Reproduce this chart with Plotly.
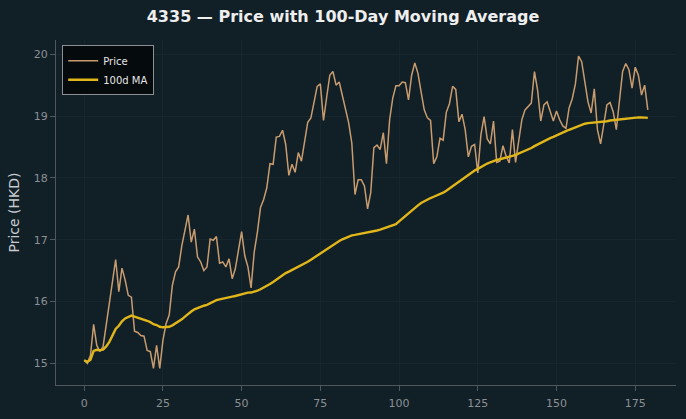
import plotly.graph_objects as go
import pandas as pd

days = list(range(180))
price = [
    15.05, 15.00, 15.13, 15.63, 15.29, 15.19, 15.27, 15.63, 15.94, 16.32,
    16.68, 16.16, 16.54, 16.35, 16.10, 16.07, 15.52, 15.50, 15.45, 15.44,
    15.21, 15.19, 14.92, 15.29, 14.92, 15.37, 15.64, 15.78, 16.26, 16.48,
    16.56, 16.90, 17.17, 17.40, 16.96, 17.17, 16.72, 16.64, 16.50, 16.56,
    17.01, 16.99, 17.05, 16.62, 16.64, 16.56, 16.69, 16.37, 16.53, 16.85,
    17.13, 16.74, 16.56, 16.22, 16.80, 17.12, 17.52, 17.65, 17.84, 18.23,
    18.22, 18.66, 18.67, 18.77, 18.54, 18.04, 18.22, 18.09, 18.41, 18.27,
    18.56, 18.90, 18.97, 19.22, 19.48, 19.52, 18.93, 19.30, 19.66, 19.72,
    19.50, 19.55, 19.34, 19.13, 18.89, 18.56, 17.73, 17.97, 17.97, 17.87,
    17.50, 17.76, 18.49, 18.53, 18.46, 18.73, 18.23, 18.94, 19.29, 19.49,
    19.49, 19.55, 19.54, 19.26, 19.66, 19.86, 19.69, 19.39, 19.10, 18.97,
    18.93, 18.23, 18.34, 18.64, 18.61, 19.06, 19.20, 19.48, 19.43, 18.91,
    19.03, 18.78, 18.34, 18.51, 18.54, 18.08, 18.70, 18.99, 18.63, 18.55,
    18.92, 18.25, 18.27, 18.52, 18.35, 18.24, 18.78, 18.25, 18.62, 18.94,
    19.10, 19.15, 19.21, 19.72, 19.42, 18.92, 19.18, 19.23, 19.08, 18.92,
    19.08, 18.94, 18.84, 18.80, 19.13, 19.28, 19.52, 19.97, 19.88, 19.55,
    19.23, 19.05, 19.44, 18.78, 18.55, 18.86, 19.18, 19.22, 19.07, 18.78,
    19.23, 19.72, 19.85, 19.75, 19.45, 19.79, 19.66, 19.34, 19.50, 19.10,
]
ma_window = 100
ma = pd.Series(price).rolling(ma_window, min_periods=1).mean().tolist()

title_text = "4335 \u2014 Price with 100-Day Moving Average"
x_ticks = [0, 25, 50, 75, 100, 125, 150, 175]
y_ticks = [15, 16, 17, 18, 19, 20]

bg = "#111f27"
grid = "#16262e"
axis_col = "#4f585d"
tick_col = "#8c9094"

fig = go.Figure()
fig.add_trace(go.Scatter(x=days, y=price, mode="lines", name="Price",
                         line=dict(color="#c89c6e", width=1.5)))
fig.add_trace(go.Scatter(x=days, y=ma, mode="lines", name="100d MA",
                         line=dict(color="#e0b61a", width=2.4)))

fig.update_layout(
    width=686, height=419,
    paper_bgcolor=bg, plot_bgcolor=bg,
    margin=dict(l=56, r=10, t=40, b=34),
    font=dict(family="DejaVu Sans", color=tick_col, size=11),
    title=dict(text=title_text, x=0.5, xanchor="center", yref="container",
               y=0.975, yanchor="top",
               font=dict(family="DejaVu Sans", size=16, color="#eeeeee", weight="bold")),
    showlegend=True,
    legend=dict(x=0.01, y=0.985, xanchor="left", yanchor="top",
                bgcolor="#050a0c", bordercolor="#8c9094", borderwidth=1,
                font=dict(color="#e6e6e6", size=10, family="DejaVu Sans"),
                tracegroupgap=0, itemwidth=30),
)
fig.update_xaxes(range=[-8.95, 187.95], tickvals=x_ticks, showgrid=True, gridcolor=grid,
                 gridwidth=1, zeroline=False, showline=True, linecolor=axis_col,
                 linewidth=1, ticks="outside", ticklen=5, tickcolor=axis_col,
                 ticklabelstandoff=3,
                 tickfont=dict(color=tick_col, size=11))
fig.update_yaxes(range=[14.65, 20.23], tickvals=y_ticks, showgrid=True, gridcolor=grid,
                 gridwidth=1, zeroline=False, showline=True, linecolor=axis_col,
                 linewidth=1, ticks="outside", ticklen=5, tickcolor=axis_col,
                 tickfont=dict(color=tick_col, size=11),
                 title=dict(text="Price (HKD)", font=dict(color="#c8ccd0", size=14), standoff=10))

fig.write_html("out.html")
